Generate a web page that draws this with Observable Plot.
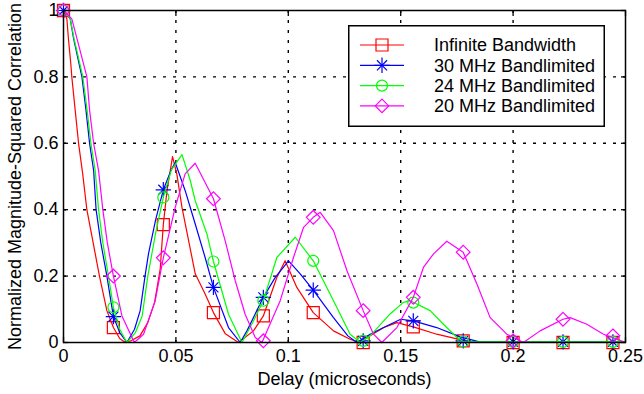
<!DOCTYPE html>
<html><head><meta charset="utf-8">
<script src="https://cdn.jsdelivr.net/npm/d3@7"></script>
<script src="https://cdn.jsdelivr.net/npm/@observablehq/plot@0.6"></script>
<style>
body{margin:0;background:#fff}
#wrap{position:relative;width:644px;height:394px}
#legend{position:absolute;left:348px;top:25px}
</style>
</head><body><div id="wrap"></div>
<script>
// ---- data ----
const seriesNames = ["Infinite Bandwidth", "30 MHz Bandlimited", "24 MHz Bandlimited", "20 MHz Bandlimited"];
const seriesColors = ["#ff0000", "#0000ff", "#00ff00", "#ff00ff"];

const redPts = [[0,1],[0.0015,0.975],[0.0022,0.915],[0.0033,0.835],[0.0037,0.8],[0.0052,0.7],[0.0067,0.6],[0.0085,0.51],[0.0104,0.4],[0.0132,0.3],[0.016,0.2],[0.0193,0.096],[0.0222,0.045],[0.025,0.012],[0.027,0.002],[0.03,0.005],[0.034,0.02],[0.0375,0.06],[0.0405,0.12],[0.043,0.22],[0.0444,0.355],[0.046,0.455],[0.0485,0.56],[0.0504,0.508],[0.0527,0.407],[0.0586,0.207],[0.063,0.146],[0.0667,0.09],[0.072,0.026],[0.0778,0],[0.0845,0.035],[0.0889,0.08],[0.0949,0.196],[0.0986,0.246],[0.1038,0.166],[0.1111,0.09],[0.1201,0.035],[0.1275,0.01],[0.1315,0],[0.1364,0.02],[0.1425,0.045],[0.1483,0.06],[0.1556,0.047],[0.166,0.025],[0.175,0.011],[0.18,0.002],[0.2,0],[0.25,0]];

const bluePts = [[0,1],[0.003,0.975],[0.0045,0.915],[0.0082,0.8],[0.01,0.7],[0.0116,0.6],[0.0134,0.518],[0.0145,0.4],[0.0166,0.3],[0.0193,0.2],[0.0222,0.078],[0.025,0.03],[0.0282,0],[0.0316,0.04],[0.0341,0.096],[0.0364,0.206],[0.0378,0.267],[0.041,0.37],[0.0444,0.46],[0.0479,0.52],[0.0497,0.542],[0.0541,0.458],[0.0586,0.357],[0.063,0.256],[0.0667,0.166],[0.0734,0.045],[0.0786,0],[0.0816,0.035],[0.0889,0.136],[0.0942,0.196],[0.1001,0.246],[0.1054,0.206],[0.1111,0.158],[0.1201,0.075],[0.1265,0.02],[0.1305,0],[0.1364,0.025],[0.1424,0.045],[0.15,0.07],[0.1556,0.065],[0.166,0.045],[0.1765,0.017],[0.185,0.002],[0.25,0.002]];

const greenPts = [[0,1],[0.003,0.975],[0.0047,0.915],[0.0086,0.8],[0.0105,0.7],[0.0122,0.6],[0.0141,0.518],[0.0156,0.4],[0.0175,0.3],[0.02,0.2],[0.0222,0.106],[0.025,0.04],[0.0282,0],[0.032,0.03],[0.035,0.08],[0.0375,0.2],[0.041,0.33],[0.0444,0.437],[0.048,0.52],[0.0527,0.566],[0.0564,0.488],[0.0586,0.427],[0.0638,0.327],[0.0667,0.244],[0.0734,0.085],[0.0794,0],[0.0845,0.065],[0.0889,0.126],[0.0949,0.256],[0.1031,0.317],[0.1111,0.246],[0.1201,0.126],[0.1275,0.025],[0.132,0],[0.1364,0.02],[0.1453,0.086],[0.1512,0.121],[0.1542,0.126],[0.1631,0.096],[0.169,0.055],[0.175,0.015],[0.178,0.002],[0.25,0.002]];

const magentaPts = [[0,1],[0.0037,0.975],[0.006,0.915],[0.0104,0.8],[0.0116,0.7],[0.0134,0.6],[0.0156,0.518],[0.0175,0.4],[0.0195,0.3],[0.0222,0.2],[0.026,0.08],[0.0315,0],[0.0356,0.025],[0.0408,0.126],[0.0444,0.255],[0.0497,0.407],[0.0541,0.508],[0.0586,0.54],[0.0667,0.433],[0.0719,0.307],[0.0764,0.186],[0.0808,0.085],[0.0853,0.015],[0.0883,0],[0.0964,0.126],[0.1023,0.256],[0.1068,0.347],[0.1111,0.377],[0.1142,0.392],[0.1201,0.337],[0.1261,0.216],[0.1333,0.096],[0.1379,0.025],[0.1416,0],[0.1483,0.045],[0.1556,0.136],[0.1601,0.226],[0.1646,0.267],[0.1705,0.305],[0.1778,0.272],[0.1839,0.176],[0.1898,0.075],[0.1972,0.025],[0.2046,0],[0.212,0.035],[0.2222,0.07],[0.2254,0.075],[0.2328,0.055],[0.2402,0.025],[0.249,0.003]];

const markerX = [0, 0.0222, 0.0444, 0.0667, 0.0889, 0.1111, 0.1333, 0.1556, 0.1778, 0.2, 0.2222, 0.2444];
const redMarkY = [1, 0.045, 0.355, 0.09, 0.08, 0.09, 0.0, 0.047, 0.005, 0, 0, 0];
const blueMarkY = [1, 0.078, 0.46, 0.166, 0.136, 0.158, 0.005, 0.065, 0.005, 0.002, 0.002, 0.002];
const greenMarkY = [1, 0.106, 0.437, 0.244, 0.126, 0.246, 0.005, 0.12, 0.003, 0.002, 0.002, 0.002];
const magentaMarkY = [1, 0.2, 0.255, 0.433, 0.005, 0.377, 0.096, 0.136, 0.272, 0.005, 0.07, 0.02];

const xTicks = [0, 0.05, 0.1, 0.15, 0.2, 0.25];
const xTickLabels = ["0", "0.05", "0.1", "0.15", "0.2", "0.25"];
const yTicks = [0, 0.2, 0.4, 0.6, 0.8, 1];
const yTickLabels = ["0", "0.2", "0.4", "0.6", "0.8", "1"];
const xLabel = "Delay (microseconds)";
const yLabel = "Normalized Magnitude-Squared Correlation";

// ---- chart ----
const font = "'Liberation Sans', Arial, Helvetica, sans-serif";
const px = d => d[0], py = d => d[1];
const lineSets = [redPts, bluePts, greenPts, magentaPts];
const markSets = [redMarkY, blueMarkY, greenMarkY, magentaMarkY].map(ys => markerX.map((x, i) => [x, ys[i]]));
const gridStyle = {stroke: "black", strokeOpacity: 1, strokeWidth: 1.4, strokeDasharray: "3,7"};

const seriesMarks = [];
lineSets.forEach((pts, s) => {
  seriesMarks.push(Plot.line(pts, {x: px, y: py, stroke: seriesColors[s], strokeWidth: 1.2}));
  const m = markSets[s];
  const c = seriesColors[s];
  if (s === 0) seriesMarks.push(Plot.dot(m, {x: px, y: py, symbol: "square", r: 6.8, stroke: c, fill: "none", strokeWidth: 1.2}));
  if (s === 1) {
    seriesMarks.push(Plot.dot(m, {x: px, y: py, symbol: "plus", r: 5.0, stroke: c, fill: "none", strokeWidth: 1.2}));
    seriesMarks.push(Plot.dot(m, {x: px, y: py, symbol: "times", r: 4.6, stroke: c, fill: "none", strokeWidth: 1.2}));
  }
  if (s === 2) seriesMarks.push(Plot.dot(m, {x: px, y: py, symbol: "circle", r: 5.5, stroke: c, fill: "none", strokeWidth: 1.2}));
  if (s === 3) seriesMarks.push(Plot.dot(m, {x: px, y: py, symbol: "diamond2", r: 6.2, stroke: c, fill: "none", strokeWidth: 1.2}));
});

const chart = Plot.plot({
  width: 644, height: 394,
  marginLeft: 63, marginRight: 19, marginTop: 10, marginBottom: 52,
  style: {fontFamily: font, fontSize: "18px", background: "white", color: "black", overflow: "visible"},
  x: {domain: [0, 0.25]},
  y: {domain: [0, 1]},
  marks: [
    Plot.gridX(xTicks.slice(1, -1), gridStyle),
    Plot.gridY(yTicks.slice(1, -1), gridStyle),
    ...seriesMarks,
    Plot.frame({stroke: "black", strokeWidth: 1.5}),
    Plot.axisX(xTicks, {anchor: "bottom", tickSize: 0, tickPadding: 7, tickFormat: d => xTickLabels[xTicks.indexOf(d)], label: null}),
    Plot.axisX(xTicks, {anchor: "bottom", tickSize: -5, tickFormat: () => "", label: null, strokeWidth: 1.3}),
    Plot.axisX(xTicks, {anchor: "top", tickSize: -5, tickFormat: () => "", label: null, strokeWidth: 1.3}),
    Plot.axisY(yTicks, {anchor: "left", tickSize: 0, tickPadding: 5, tickFormat: d => yTickLabels[yTicks.indexOf(d)], label: null}),
    Plot.axisY(yTicks, {anchor: "left", tickSize: -5, tickFormat: () => "", label: null, strokeWidth: 1.3}),
    Plot.axisY(yTicks, {anchor: "right", tickSize: -5, tickFormat: () => "", label: null, strokeWidth: 1.3}),
    Plot.text([xLabel], {text: d => d, frameAnchor: "bottom", dy: 37, fontSize: 18, lineAnchor: "middle", textAnchor: "middle"}),
    Plot.text([yLabel], {text: d => d, frameAnchor: "left", dx: -48, rotate: -90, fontSize: 18, lineAnchor: "middle", textAnchor: "middle"})
  ]
});
const wrap = document.getElementById("wrap");
wrap.appendChild(chart);

// ---- legend ----
const lw = 257, lh = 102;
const leg = d3.select(wrap).append("svg").attr("id", "legend").attr("width", lw).attr("height", lh)
  .style("font-family", font).style("font-size", "18px");
leg.append("rect").attr("x", 0.75).attr("y", 0.75).attr("width", lw - 1.5).attr("height", lh - 1.5)
  .attr("fill", "white").attr("stroke", "black").attr("stroke-width", 1.5);
const legSymbols = [
  [{t: d3.symbolSquare, s: 144}],
  [{t: d3.symbolPlus, s: 80}, {t: d3.symbolTimes, s: 68}],
  [{t: d3.symbolCircle, s: 95}],
  [{t: d3.symbolDiamond2, s: 115}]
];
seriesNames.forEach((name, i) => {
  const cy = 20 + i * 20.3;
  leg.append("line").attr("x1", 12).attr("x2", 56).attr("y1", cy).attr("y2", cy)
    .attr("stroke", seriesColors[i]).attr("stroke-width", 1.2);
  legSymbols[i].forEach(sym => {
    leg.append("path").attr("d", d3.symbol(sym.t, sym.s)()).attr("transform", `translate(34,${cy})`)
      .attr("fill", "none").attr("stroke", seriesColors[i]).attr("stroke-width", 1.2);
  });
  leg.append("text").attr("x", 86).attr("y", cy).attr("dy", "0.35em").attr("fill", "black").text(name);
});
</script>
</body></html>
